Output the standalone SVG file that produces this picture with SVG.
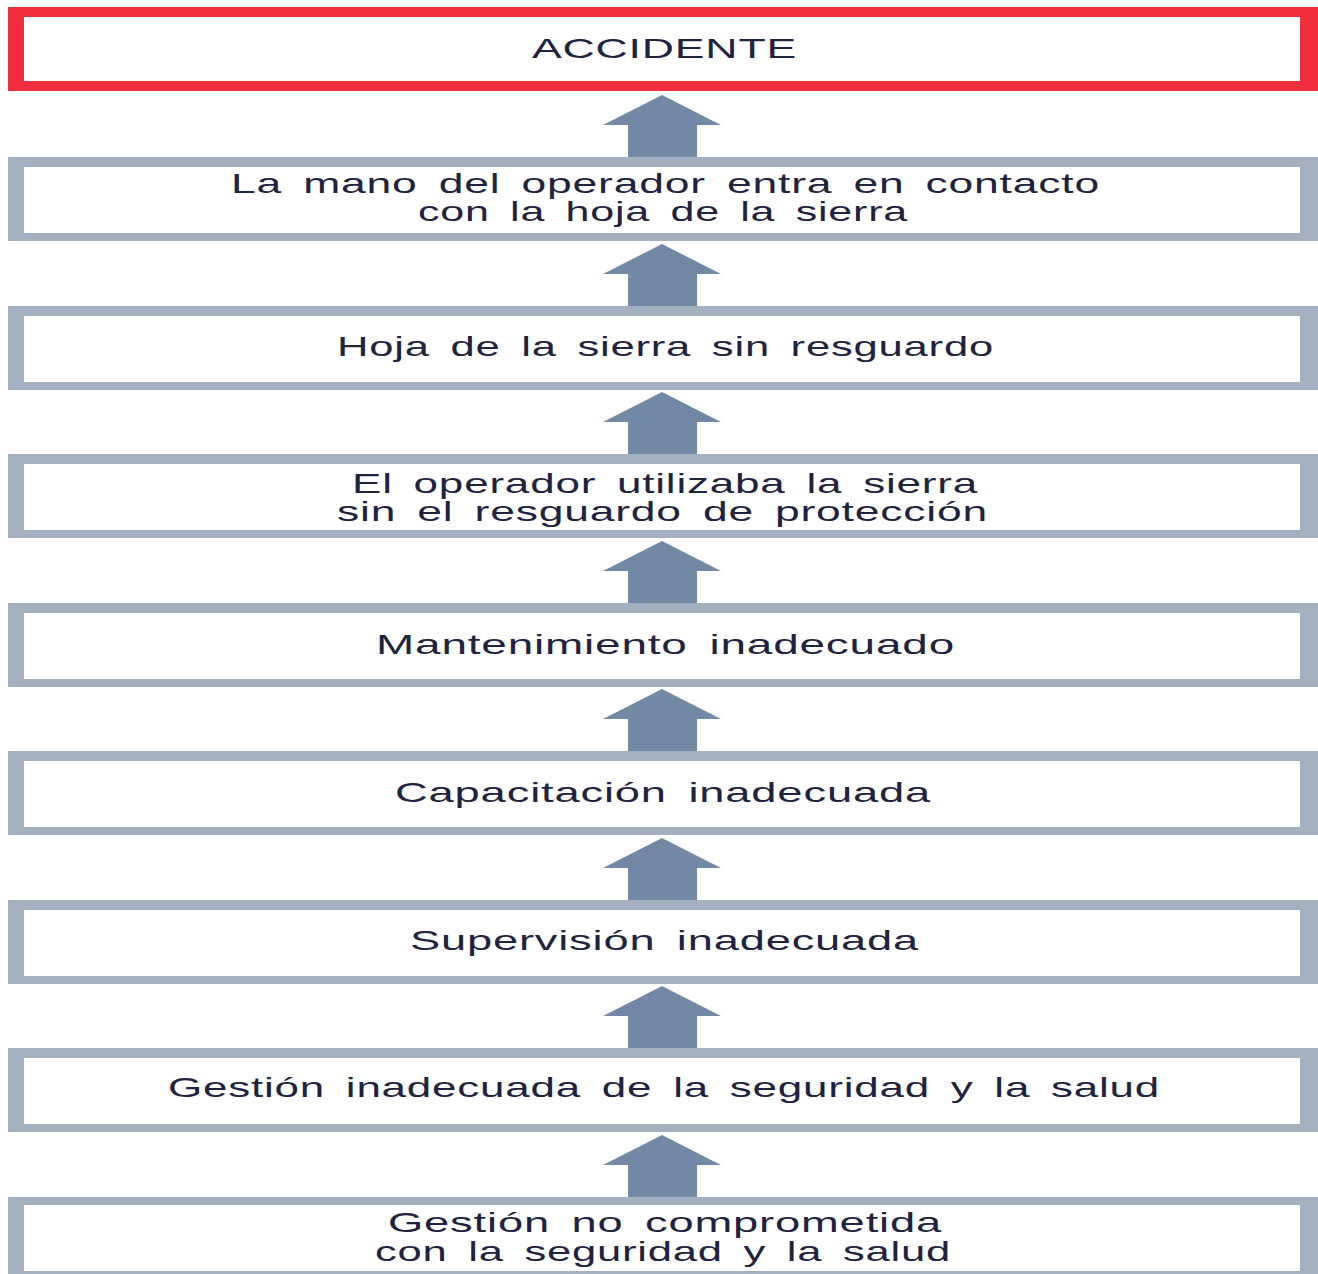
<svg xmlns="http://www.w3.org/2000/svg" width="1318" height="1274" viewBox="0 0 1318 1274">
<style>
.frame{fill:#a3b0c0}
.frame-red{fill:#f22d3d}
.inner{fill:#ffffff}
.arrow{fill:#7189a5}
text{font-family:"Liberation Sans",Arial,sans-serif;font-size:28px;fill:#1f2340;word-spacing:5px;letter-spacing:0.5px}
</style>
<rect width="1318" height="1274" fill="#ffffff"/>
<g id="connectors">
<polygon class="arrow" points="662,95 721,125 697,125 697,158 628,158 628,125 603,125"/>
<polygon class="arrow" points="662,244 721,274 697,274 697,307 628,307 628,274 603,274"/>
<polygon class="arrow" points="662,392 721,422 697,422 697,455 628,455 628,422 603,422"/>
<polygon class="arrow" points="662,541 721,571 697,571 697,604 628,604 628,571 603,571"/>
<polygon class="arrow" points="662,689 721,719 697,719 697,752 628,752 628,719 603,719"/>
<polygon class="arrow" points="662,838 721,868 697,868 697,901 628,901 628,868 603,868"/>
<polygon class="arrow" points="662,986 721,1016 697,1016 697,1049 628,1049 628,1016 603,1016"/>
<polygon class="arrow" points="662,1135 721,1165 697,1165 697,1198 628,1198 628,1165 603,1165"/>
</g>
<g id="n0">
<rect class="frame-red" x="8" y="7" width="1310" height="84"/>
<rect class="inner" x="24" y="17" width="1276" height="64"/>
<text x="532" y="58" textLength="265" lengthAdjust="spacingAndGlyphs">ACCIDENTE</text>
</g>
<g id="n1">
<rect class="frame" x="8" y="157" width="1310" height="84"/>
<rect class="inner" x="24" y="167" width="1276" height="66"/>
<text x="231" y="193" textLength="869" lengthAdjust="spacingAndGlyphs">La mano del operador entra en contacto</text>
<text x="418" y="221" textLength="490" lengthAdjust="spacingAndGlyphs">con la hoja de la sierra</text>
</g>
<g id="n2">
<rect class="frame" x="8" y="306" width="1310" height="84"/>
<rect class="inner" x="24" y="316" width="1276" height="66"/>
<text x="337" y="356" textLength="657" lengthAdjust="spacingAndGlyphs">Hoja de la sierra sin resguardo</text>
</g>
<g id="n3">
<rect class="frame" x="8" y="454" width="1310" height="84"/>
<rect class="inner" x="24" y="464" width="1276" height="66"/>
<text x="352" y="493" textLength="626" lengthAdjust="spacingAndGlyphs">El operador utilizaba la sierra</text>
<text x="337" y="521" textLength="651" lengthAdjust="spacingAndGlyphs">sin el resguardo de protección</text>
</g>
<g id="n4">
<rect class="frame" x="8" y="603" width="1310" height="84"/>
<rect class="inner" x="24" y="613" width="1276" height="66"/>
<text x="376" y="654" textLength="579" lengthAdjust="spacingAndGlyphs">Mantenimiento inadecuado</text>
</g>
<g id="n5">
<rect class="frame" x="8" y="751" width="1310" height="84"/>
<rect class="inner" x="24" y="761" width="1276" height="66"/>
<text x="395" y="802" textLength="536" lengthAdjust="spacingAndGlyphs">Capacitación inadecuada</text>
</g>
<g id="n6">
<rect class="frame" x="8" y="900" width="1310" height="84"/>
<rect class="inner" x="24" y="910" width="1276" height="66"/>
<text x="410" y="950" textLength="509" lengthAdjust="spacingAndGlyphs">Supervisión inadecuada</text>
</g>
<g id="n7">
<rect class="frame" x="8" y="1048" width="1310" height="84"/>
<rect class="inner" x="24" y="1058" width="1276" height="66"/>
<text x="168" y="1097" textLength="992" lengthAdjust="spacingAndGlyphs">Gestión inadecuada de la seguridad y la salud</text>
</g>
<g id="n8">
<rect class="frame" x="8" y="1197" width="1310" height="84"/>
<rect class="inner" x="24" y="1205" width="1276" height="66"/>
<text x="388" y="1232" textLength="554" lengthAdjust="spacingAndGlyphs">Gestión no comprometida</text>
<text x="375" y="1261" textLength="576" lengthAdjust="spacingAndGlyphs">con la seguridad y la salud</text>
</g>
</svg>
